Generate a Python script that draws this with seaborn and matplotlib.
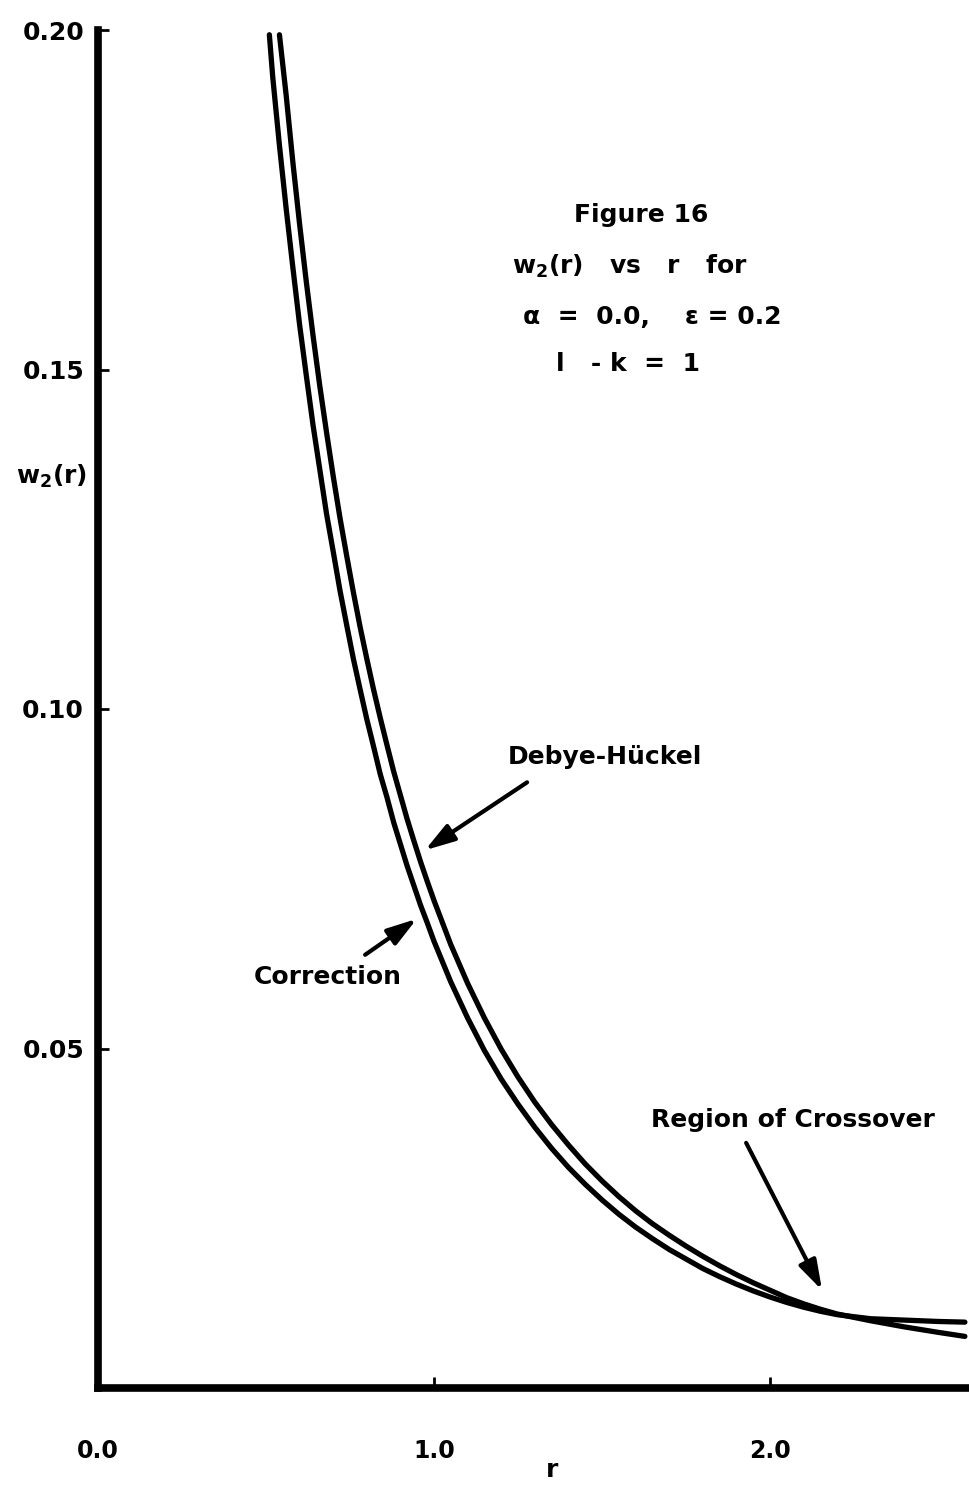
import matplotlib
matplotlib.use("Agg")
import matplotlib.pyplot as plt
import pandas as pd
import seaborn as sns

# Debye-Hückel curve w2(r)
r_debye = [0.54, 0.56, 0.58, 0.60, 0.62, 0.64, 0.66, 0.68, 0.70, 0.72, 0.74,
           0.76, 0.78, 0.80, 0.82, 0.84, 0.86, 0.88, 0.90, 0.92, 0.94, 0.96,
           0.98, 1.00, 1.05, 1.10, 1.15, 1.20, 1.25, 1.30, 1.35, 1.40, 1.45,
           1.50, 1.55, 1.60, 1.65, 1.70, 1.75, 1.80, 1.85, 1.90, 1.95, 2.00,
           2.05, 2.10, 2.15, 2.20, 2.30, 2.40, 2.50, 2.58]
w_debye = [0.1993, 0.1904, 0.1805, 0.1714, 0.1629, 0.1550, 0.1476, 0.1408,
           0.1343, 0.1282, 0.1226, 0.1172, 0.1121, 0.1074, 0.1029, 0.0987,
           0.0947, 0.0908, 0.0873, 0.0838, 0.0806, 0.0775, 0.0746, 0.0718,
           0.0653, 0.0596, 0.0545, 0.0499, 0.0458, 0.0421, 0.0388, 0.0358,
           0.0330, 0.0305, 0.0282, 0.0261, 0.0242, 0.0225, 0.0209, 0.0194,
           0.0180, 0.0167, 0.0155, 0.0144, 0.0133, 0.0124, 0.0116, 0.0109,
           0.0099, 0.0090, 0.0082, 0.0076]

# corrected curve w2(r)
r_corr = [0.51, 0.52, 0.54, 0.56, 0.58, 0.60, 0.62, 0.64, 0.66, 0.68, 0.70,
          0.72, 0.74, 0.76, 0.78, 0.80, 0.82, 0.84, 0.86, 0.88, 0.90, 0.92,
          0.94, 0.96, 0.98, 1.00, 1.05, 1.10, 1.15, 1.20, 1.25, 1.30, 1.35,
          1.40, 1.45, 1.50, 1.55, 1.60, 1.65, 1.70, 1.75, 1.80, 1.85, 1.90,
          1.95, 2.00, 2.05, 2.10, 2.15, 2.20, 2.25, 2.30, 2.40, 2.50, 2.58]
w_corr = [0.1993, 0.1931, 0.1830, 0.1737, 0.1650, 0.1566, 0.1491, 0.1418,
          0.1353, 0.1288, 0.1232, 0.1175, 0.1124, 0.1074, 0.1029, 0.0985,
          0.0945, 0.0904, 0.0870, 0.0833, 0.0801, 0.0769, 0.0740, 0.0711,
          0.0685, 0.0658, 0.0598, 0.0545, 0.0497, 0.0455, 0.0418, 0.0384,
          0.0353, 0.0325, 0.0300, 0.0277, 0.0256, 0.0237, 0.0220, 0.0204,
          0.0190, 0.0176, 0.0164, 0.0153, 0.0143, 0.0134, 0.0126, 0.0119,
          0.0113, 0.0108, 0.0105, 0.0102, 0.0100, 0.0098, 0.0097]

x_ticks = [0.0, 1.0, 2.0]
x_tick_labels = ["0.0", "1.0", "2.0"]
y_ticks = [0.05, 0.10, 0.15, 0.20]
y_tick_labels = ["0.05", "0.10", "0.15", "0.20"]

sns.set_theme(style="white")
plt.rcParams["font.family"] = ["DejaVu Sans"]
plt.rcParams["font.weight"] = "bold"
plt.rcParams["text.color"] = "black"
plt.rcParams["mathtext.fontset"] = "custom"
plt.rcParams["mathtext.rm"] = "DejaVu Sans:bold"
plt.rcParams["mathtext.bf"] = "DejaVu Sans:bold"
plt.rcParams["mathtext.default"] = "bf"

W, H = 970, 1485
fig = plt.figure(figsize=(W / 100, H / 100), dpi=100)
fig.patch.set_facecolor("white")
ax = fig.add_axes([98 / W, 1 - 1388 / H, 870 / W, (1388 - 30) / H])
ax.set_facecolor("white")

df = pd.concat([
    pd.DataFrame({"r": r_debye, "w": w_debye, "curve": "Debye-Hückel"}),
    pd.DataFrame({"r": r_corr, "w": w_corr, "curve": "Correction"}),
])
sns.lineplot(data=df, x="r", y="w", hue="curve", palette=["black", "black"],
             linewidth=3.8, legend=False, sort=False, estimator=None, ax=ax)
for ln in ax.get_lines():
    ln.set_solid_capstyle("round")
    ln.set_solid_joinstyle("round")

ax.set_xlim(0, 870 / 336)
ax.set_ylim(0, 0.20)
sns.despine(ax=ax)
for side in ("left", "bottom"):
    ax.spines[side].set_linewidth(5.5)
    ax.spines[side].set_color("black")
    ax.spines[side].set_capstyle("projecting")

ax.set_xticks(x_ticks)
ax.set_xticklabels(x_tick_labels, fontsize=17, fontweight="bold")
ax.set_yticks(y_ticks)
ax.set_yticklabels(y_tick_labels, fontsize=18, fontweight="bold")
ax.tick_params(axis="both", which="both", direction="in", length=8, width=2,
               colors="black", bottom=True, left=True)
ax.tick_params(axis="x", pad=37)
ax.tick_params(axis="y", pad=10)
ax.set_xlabel("")
ax.set_ylabel("")


def fpos(x, y):
    return x / W, 1 - y / H


txt = dict(ha="center", va="center", fontsize=18, fontweight="bold", color="black")
fig.text(*fpos(641, 215), "Figure 16", **txt)
fig.text(*fpos(630, 266), r"w$_2$(r)   vs   r   for", **txt)
fig.text(*fpos(652, 317), "α  =  0.0,    ε = 0.2", **txt)
fig.text(*fpos(628, 364), "l   - k  =  1", **txt)
fig.text(*fpos(52, 476), r"w$_2$(r)", **txt)
fig.text(*fpos(552, 1470), "r", ha="center", va="center", fontsize=18,
         fontweight="bold", color="black")
fig.text(*fpos(605, 757), "Debye-Hückel", **txt)
fig.text(*fpos(328, 977), "Correction", **txt)
fig.text(*fpos(793, 1120), "Region of Crossover", **txt)

arrow = dict(arrowstyle="-|>,head_length=0.9,head_width=0.28", lw=3,
             color="black", mutation_scale=20, shrinkA=0, shrinkB=0)
ax.annotate("", xy=(0.973, 0.0792), xytext=(1.277, 0.0892), arrowprops=arrow)
ax.annotate("", xy=(0.949, 0.0691), xytext=(0.795, 0.0638), arrowprops=arrow)
ax.annotate("", xy=(2.155, 0.0144), xytext=(1.929, 0.0361), arrowprops=arrow)

fig.savefig("out.png", dpi=100, facecolor="white")
